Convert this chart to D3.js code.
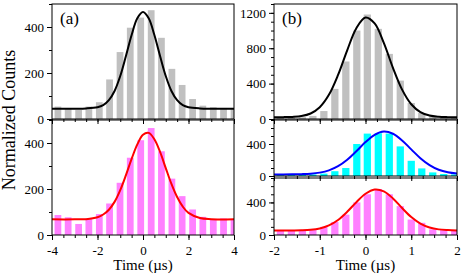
<!DOCTYPE html>
<html>
<head>
<meta charset="utf-8">
<script src="https://cdn.jsdelivr.net/npm/d3@7"></script>
<style>
  body { margin: 0; background: #fff; }
  text { font-family: "Liberation Serif", "Times New Roman", serif; }
</style>
</head>
<body>
<svg width="463" height="278"></svg>
<script>
// bin centres (µs)
const aCenters = [-3.74, -3.29, -2.83, -2.38, -1.92, -1.47, -1.01, -0.56, -0.10, 0.36, 0.81, 1.27, 1.72, 2.18, 2.63, 3.09, 3.54, 4.00];
const bCenters = [-1.86, -1.62, -1.38, -1.15, -0.91, -0.67, -0.43, -0.19, 0.04, 0.28, 0.52, 0.76, 1.00, 1.23, 1.47, 1.71, 1.95];

// histogram counts
const aTopCounts = [54, 44, 39, 54, 73, 172, 291, 397, 441, 473, 353, 218, 148, 87, 58, 51, 48, 48];
const aBottomCounts = [87, 77, 48, 72, 91, 137, 227, 336, 412, 465, 364, 245, 169, 111, 79, 69, 72, 68];
const bTopCounts = [15, 18, 20, 35, 90, 340, 650, 1000, 1181, 1019, 736, 434, 181, 68, 35, 20, 18];
const bMidCounts = [10, 12, 15, 20, 30, 60, 100, 400, 530, 535, 530, 370, 190, 95, 45, 25, 20];
const bBottomCounts = [60, 58, 62, 60, 100, 160, 250, 400, 500, 565, 500, 355, 190, 150, 70, 60, 55];

// fitted curves
const aFitX = [-4, -3, -2.5, -2, -1.75, -1.5, -1.25, -1, -0.75, -0.5, -0.25, 0, 0.25, 0.5, 0.75, 1, 1.25, 1.5, 1.75, 2, 2.5, 3, 4];
const aTopFit = [45, 45, 46, 51, 60, 82, 122, 187, 274, 365, 438, 465, 438, 365, 274, 187, 122, 82, 60, 51, 46, 45, 45];
const aBottomFit = [68, 68, 69, 77, 89, 110, 144, 195, 260, 331, 394, 436, 444, 416, 361, 291, 222, 165, 123, 96, 74, 69, 68];
const bFitX = [-2, -1.8, -1.6, -1.4, -1.2, -1, -0.8, -0.6, -0.4, -0.2, 0, 0.2, 0.4, 0.6, 0.8, 1, 1.2, 1.4, 1.6, 1.8, 2];
const bTopFit = [20, 21, 24, 33, 62, 133, 273, 498, 777, 1027, 1148, 1081, 860, 578, 332, 167, 78, 39, 25, 21, 20];
const bMidFit = [20, 20, 21, 23, 28, 42, 70, 122, 203, 310, 424, 515, 555, 528, 445, 333, 223, 136, 78, 46, 30];
const bBottomFit = [55, 55, 56, 58, 64, 81, 118, 185, 285, 403, 507, 559, 536, 449, 331, 221, 141, 93, 69, 60, 56];

// tick values
const aXTicks = [-4, -2, 0, 2, 4];
const bXTicks = [-2, -1, 0, 1, 2];
const aYTicks = [0, 200, 400];
const bTopYTicks = [0, 400, 800, 1200];
const bSmallYTicks = [0, 400];

const svg = d3.select("svg");
const fmt = function (d) { return String(d); };   // plain hyphen minus

const panels = [
  {id: "a1", x0: 52, x1: 234, y0: 4, y1: 119, xd: [-4, 4], yd: [0, 500], centers: aCenters, counts: aTopCounts,
   fitX: aFitX, fit: aTopFit, bar: "#c0c0c0", line: "#000", xt: aXTicks, xm: 0.5, yt: aYTicks, ym: 100, xlab: false, tag: "(a)"},
  {id: "a2", x0: 52, x1: 234, y0: 120, y1: 235, xd: [-4, 4], yd: [0, 500], centers: aCenters, counts: aBottomCounts,
   fitX: aFitX, fit: aBottomFit, bar: "#ff80ff", line: "#ff0000", xt: aXTicks, xm: 0.5, yt: aYTicks, ym: 100, xlab: true},
  {id: "b1", x0: 274, x1: 457, y0: 4, y1: 119, xd: [-2, 2], yd: [0, 1300], centers: bCenters, counts: bTopCounts,
   fitX: bFitX, fit: bTopFit, bar: "#c0c0c0", line: "#000", xt: bXTicks, xm: 0.25, yt: bTopYTicks, ym: 100, xlab: false, tag: "(b)"},
  {id: "b2", x0: 274, x1: 457, y0: 120, y1: 176, xd: [-2, 2], yd: [0, 700], centers: bCenters, counts: bMidCounts,
   fitX: bFitX, fit: bMidFit, bar: "#00ffff", line: "#0000ff", xt: bXTicks, xm: 0.25, yt: bSmallYTicks, ym: 100, xlab: false},
  {id: "b3", x0: 274, x1: 457, y0: 178, y1: 235, xd: [-2, 2], yd: [0, 700], centers: bCenters, counts: bBottomCounts,
   fitX: bFitX, fit: bBottomFit, bar: "#ff80ff", line: "#ff0000", xt: bXTicks, xm: 0.25, yt: bSmallYTicks, ym: 100, xlab: true}
];

panels.forEach(function (p) {
  const x = d3.scaleLinear().domain(p.xd).range([p.x0, p.x1]);
  const y = d3.scaleLinear().domain(p.yd).range([p.y1, p.y0]);

  svg.append("clipPath").attr("id", "clip-" + p.id)
    .append("rect")
    .attr("x", p.x0).attr("y", p.y0)
    .attr("width", p.x1 - p.x0).attr("height", p.y1 - p.y0);

  const g = svg.append("g").attr("clip-path", "url(#clip-" + p.id + ")");

  // bars
  const step = p.centers[1] - p.centers[0];
  const bw = (x(p.centers[0] + step) - x(p.centers[0])) * 0.66;
  g.selectAll("rect.bar")
    .data(p.centers)
    .enter()
    .append("rect")
    .attr("class", "bar")
    .attr("x", function (d) { return x(d) - bw / 2; })
    .attr("y", function (d, i) { return y(p.counts[i]); })
    .attr("width", bw)
    .attr("height", function (d, i) { return y(0) - y(p.counts[i]); })
    .style("fill", p.bar);

  // fit
  const line = d3.line()
    .x(function (d) { return x(d); })
    .y(function (d, i) { return y(p.fit[i]); })
    .curve(d3.curveCatmullRom.alpha(0.5));
  g.append("path")
    .datum(p.fitX)
    .attr("d", line)
    .style("fill", "none")
    .style("stroke", p.line)
    .style("stroke-width", 2);

  // frame
  svg.append("rect")
    .attr("x", p.x0).attr("y", p.y0)
    .attr("width", p.x1 - p.x0).attr("height", p.y1 - p.y0)
    .style("fill", "none").style("stroke", "#000").style("stroke-width", 1);

  // y axis
  const yMinor = d3.range(p.yd[0], p.yd[1] + 1, p.ym);
  svg.append("g")
    .attr("transform", "translate(" + p.x0 + ",0)")
    .call(d3.axisLeft(y).tickValues(yMinor).tickSize(3).tickFormat(""))
    .call(function (s) { s.select(".domain").remove(); });
  svg.append("g")
    .attr("class", "ax")
    .attr("transform", "translate(" + p.x0 + ",0)")
    .call(d3.axisLeft(y).tickValues(p.yt).tickSize(5).tickPadding(3).tickFormat(fmt))
    .call(function (s) { s.select(".domain").remove(); });

  // x axis
  const xMinor = d3.range(p.xd[0], p.xd[1] + 0.001, p.xm);
  svg.append("g")
    .attr("transform", "translate(0," + p.y1 + ")")
    .call(d3.axisBottom(x).tickValues(xMinor).tickSize(3).tickFormat(""))
    .call(function (s) { s.select(".domain").remove(); });
  svg.append("g")
    .attr("class", "ax")
    .attr("transform", "translate(0," + p.y1 + ")")
    .call(d3.axisBottom(x).tickValues(p.xt).tickSize(5).tickPadding(6)
      .tickFormat(p.xlab ? fmt : ""))
    .call(function (s) { s.select(".domain").remove(); });

  if (p.xlab) {
    svg.append("text")
      .attr("x", (p.x0 + p.x1) / 2)
      .attr("y", 270)
      .attr("text-anchor", "middle")
      .style("font-size", "15px")
      .text("Time (\u00b5s)");
  }

  if (p.tag) {
    svg.append("text")
      .attr("x", p.x0 + 8)
      .attr("y", p.y0 + 20)
      .style("font-size", "17px")
      .text(p.tag);
  }
});

svg.selectAll("g").attr("font-family", null);
svg.selectAll(".ax text")
  .style("font-family", "'Liberation Serif', serif")
  .style("font-size", "13px")
  .style("fill", "#000");
svg.selectAll(".tick line").style("stroke", "#000");

// y title
svg.append("text")
  .attr("text-anchor", "middle")
  .attr("transform", "translate(15,120)rotate(-90)")
  .style("font-size", "18px")
  .text("Normalized Counts");
</script>
</body>
</html>
